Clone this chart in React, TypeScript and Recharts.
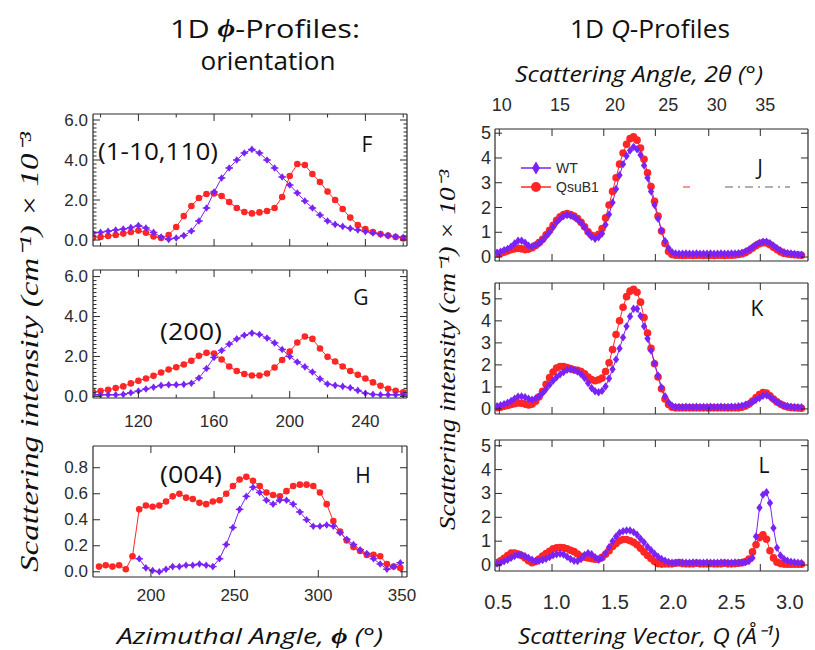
import React from 'react';
import { LineChart, Line, XAxis, YAxis } from 'recharts';

const RED = '#ff2626';
const PURPLE = '#7b22f4';
const INK = '#2b2b2b';
const SANS = "'Liberation Sans', Arial, sans-serif";
const TITLE = "'Open Sans', sans-serif";
const SERIF = "'Liberation Serif', 'Times New Roman', serif";

// ---- 1D phi profiles, panels F and G (azimuthal angle, deg) ----
const phiFG = [96, 100, 104, 108, 112, 116, 120, 124, 128, 132, 136, 140, 144, 148, 152, 156, 160, 164, 168, 172, 176, 180, 184, 188, 192, 196, 200, 204, 208, 212, 216, 220, 224, 228, 232, 236, 240, 244, 248, 252, 256, 260];
const fWT = [0.35, 0.38, 0.44, 0.5, 0.55, 0.62, 0.72, 0.6, 0.38, 0.15, 0.03, 0.1, 0.22, 0.45, 0.95, 1.6, 2.4, 3.1, 3.6, 4.0, 4.35, 4.53, 4.35, 4.0, 3.6, 3.15, 2.75, 2.35, 1.95, 1.6, 1.25, 0.95, 0.78, 0.68, 0.58, 0.5, 0.42, 0.35, 0.28, 0.22, 0.17, 0.13];
const fQsuB1 = [0.13, 0.15, 0.2, 0.25, 0.32, 0.4, 0.47, 0.36, 0.18, 0.1, 0.25, 0.65, 1.2, 1.7, 2.1, 2.3, 2.33, 2.2, 1.9, 1.6, 1.4, 1.33, 1.38, 1.45, 1.6, 2.15, 3.2, 3.8, 3.75, 3.3, 2.9, 2.42, 2.0, 1.55, 1.12, 0.75, 0.55, 0.4, 0.3, 0.22, 0.15, 0.08];
const gWT = [0.08, 0.08, 0.08, 0.08, 0.1, 0.18, 0.27, 0.37, 0.46, 0.55, 0.58, 0.58, 0.6, 0.66, 0.92, 1.4, 1.95, 2.3, 2.62, 2.88, 3.06, 3.17, 3.1, 2.92, 2.68, 2.35, 2.0, 1.72, 1.48, 1.22, 0.88, 0.62, 0.55, 0.5, 0.43, 0.3, 0.16, 0.1, 0.08, 0.08, 0.08, 0.08];
const gQsuB1 = [0.22, 0.27, 0.33, 0.42, 0.5, 0.65, 0.78, 0.9, 1.03, 1.2, 1.35, 1.46, 1.6, 1.78, 2.03, 2.18, 2.15, 1.85, 1.5, 1.27, 1.12, 1.05, 1.05, 1.15, 1.45, 1.82, 2.25, 2.7, 3.0, 2.88, 2.4, 1.98, 1.75, 1.5, 1.27, 1.08, 0.9, 0.7, 0.53, 0.38, 0.28, 0.2];

// ---- panel H, (004) ----
const phiH = [169, 173, 177, 181, 185, 189, 193, 197, 201, 205, 209, 213, 217, 221, 225, 229, 233, 237, 241, 245, 249, 253, 257, 261, 265, 269, 273, 277, 281, 285, 289, 293, 297, 301, 305, 309, 313, 317, 321, 325, 329, 333, 337, 341, 345, 349];
const hWT = [null, null, null, null, null, null, 0.1, 0.03, 0.01, 0.0, 0.02, 0.04, 0.04, 0.05, 0.05, 0.06, 0.05, 0.04, 0.1, 0.21, 0.34, 0.48, 0.58, 0.65, 0.61, 0.55, 0.52, 0.55, 0.55, 0.52, 0.46, 0.4, 0.35, 0.35, 0.36, 0.35, 0.3, 0.25, 0.21, 0.17, 0.14, 0.1, 0.06, 0.02, 0.04, 0.07];
const hQsuB1 = [0.04, 0.05, 0.04, 0.05, 0.02, 0.12, 0.48, 0.51, 0.5, 0.51, 0.54, 0.58, 0.6, 0.57, 0.56, 0.53, 0.52, 0.54, 0.55, 0.6, 0.66, 0.71, 0.73, 0.7, 0.66, 0.61, 0.59, 0.58, 0.62, 0.66, 0.67, 0.67, 0.66, 0.61, 0.52, 0.39, 0.31, 0.24, 0.19, 0.16, 0.13, 0.13, 0.12, 0.06, 0.04, 0.03];

// ---- 1D Q profiles, panels J, K, L ----
const qGrid = [
  0.49, 0.52, 0.55, 0.58, 0.61, 0.64, 0.67, 0.7, 0.73, 0.76,
  0.79, 0.82, 0.85, 0.88, 0.91, 0.94, 0.97, 1.0, 1.03, 1.06,
  1.09, 1.12, 1.15, 1.18, 1.21, 1.24, 1.27, 1.3, 1.33, 1.36,
  1.39, 1.42, 1.45, 1.48, 1.51, 1.54, 1.57, 1.6, 1.63, 1.66,
  1.69, 1.72, 1.75, 1.78, 1.81, 1.84, 1.87, 1.9, 1.93, 1.96,
  1.99, 2.02, 2.05, 2.08, 2.11, 2.14, 2.17, 2.2, 2.23, 2.26,
  2.29, 2.32, 2.35, 2.38, 2.41, 2.44, 2.47, 2.5, 2.53, 2.56,
  2.59, 2.62, 2.65, 2.68, 2.71, 2.74, 2.77, 2.8, 2.83, 2.86,
  2.89, 2.92, 2.95, 2.98, 3.01, 3.04, 3.07, 3.1,
];
const jWT = [
  0.18, 0.22, 0.28, 0.33, 0.42, 0.55, 0.66, 0.66, 0.58, 0.46,
  0.43, 0.48, 0.55, 0.68, 0.84, 1.0, 1.2, 1.4, 1.55, 1.66,
  1.7, 1.68, 1.62, 1.52, 1.38, 1.2, 0.98, 0.82, 0.74, 0.8,
  0.95, 1.3, 1.72, 2.2, 2.75, 3.3, 3.75, 4.08, 4.3, 4.45,
  4.35, 4.12, 3.7, 3.2, 2.65, 2.1, 1.55, 1.07, 0.65, 0.36,
  0.2, 0.14, 0.13, 0.13, 0.14, 0.13, 0.13, 0.14, 0.13, 0.13,
  0.13, 0.14, 0.13, 0.13, 0.14, 0.13, 0.13, 0.14, 0.14, 0.15,
  0.18, 0.23, 0.3, 0.4, 0.5, 0.57, 0.62, 0.62, 0.56, 0.46,
  0.36, 0.27, 0.2, 0.16, 0.14, 0.12, 0.1, 0.09,
];
const jQsuB1 = [
  0.12, 0.15, 0.2, 0.25, 0.3, 0.33, 0.35, 0.33, 0.3, 0.32,
  0.38, 0.47, 0.58, 0.72, 0.9, 1.08, 1.28, 1.48, 1.62, 1.72,
  1.76, 1.72, 1.65, 1.55, 1.4, 1.22, 1.02, 0.88, 0.84, 0.92,
  1.15, 1.58, 2.1, 2.65, 3.2, 3.75, 4.2, 4.55, 4.78, 4.85,
  4.72, 4.4, 3.95, 3.4, 2.85, 2.25, 1.65, 1.05, 0.55, 0.22,
  0.1, 0.07, 0.07, 0.06, 0.07, 0.07, 0.06, 0.07, 0.07, 0.06,
  0.07, 0.07, 0.06, 0.07, 0.07, 0.06, 0.07, 0.07, 0.08, 0.1,
  0.13, 0.18, 0.26, 0.36, 0.46, 0.54, 0.58, 0.57, 0.5, 0.4,
  0.3, 0.21, 0.15, 0.12, 0.1, 0.09, 0.08, 0.07,
];
const kWT = [
  0.12, 0.17, 0.22, 0.28, 0.36, 0.47, 0.56, 0.57, 0.53, 0.46,
  0.42, 0.48, 0.57, 0.72, 0.9, 1.1, 1.28, 1.44, 1.57, 1.68,
  1.78, 1.8, 1.77, 1.7, 1.57, 1.4, 1.18, 0.95, 0.8, 0.76,
  0.82, 1.02, 1.38, 1.8, 2.25, 2.75, 3.25, 3.75, 4.2, 4.55,
  4.55, 4.22, 3.75, 3.2, 2.65, 2.08, 1.52, 0.98, 0.58, 0.3,
  0.15, 0.09, 0.09, 0.09, 0.1, 0.09, 0.09, 0.1, 0.09, 0.09,
  0.09, 0.1, 0.09, 0.09, 0.1, 0.09, 0.09, 0.1, 0.1, 0.12,
  0.15, 0.19, 0.24, 0.32, 0.42, 0.5, 0.6, 0.62, 0.55, 0.43,
  0.32, 0.22, 0.16, 0.12, 0.1, 0.09, 0.08, 0.08,
];
const kQsuB1 = [
  0.06, 0.08, 0.12, 0.16, 0.2, 0.24, 0.27, 0.26, 0.22, 0.18,
  0.22, 0.35, 0.55, 0.8, 1.12, 1.42, 1.68, 1.86, 1.92, 1.93,
  1.88, 1.83, 1.78, 1.75, 1.7, 1.6, 1.45, 1.33, 1.28, 1.32,
  1.4, 1.7, 2.1, 2.7, 3.38, 4.0, 4.62, 5.1, 5.35, 5.43,
  5.3, 4.85, 4.15, 3.45, 2.75, 2.05, 1.45, 0.92, 0.45, 0.2,
  0.08, 0.05, 0.05, 0.05, 0.05, 0.05, 0.05, 0.05, 0.05, 0.05,
  0.05, 0.05, 0.05, 0.05, 0.05, 0.05, 0.05, 0.05, 0.05, 0.05,
  0.08, 0.13, 0.22, 0.36, 0.52, 0.65, 0.74, 0.72, 0.6, 0.45,
  0.32, 0.22, 0.14, 0.09, 0.06, 0.05, 0.04, 0.03,
];
const lWT = [
  0.06, 0.1, 0.16, 0.22, 0.3, 0.38, 0.43, 0.42, 0.37, 0.3,
  0.22, 0.17, 0.18, 0.21, 0.26, 0.33, 0.41, 0.45, 0.47, 0.44,
  0.35, 0.25, 0.18, 0.17, 0.25, 0.42, 0.5, 0.45, 0.33, 0.22,
  0.3, 0.5, 0.75, 1.0, 1.2, 1.35, 1.42, 1.45, 1.45, 1.38,
  1.27, 1.1, 0.95, 0.77, 0.62, 0.47, 0.35, 0.25, 0.18, 0.13,
  0.1, 0.1, 0.1, 0.11, 0.1, 0.1, 0.11, 0.1, 0.1, 0.1,
  0.11, 0.1, 0.1, 0.1, 0.11, 0.1, 0.1, 0.1, 0.11, 0.1,
  0.1, 0.12, 0.17, 0.3, 1.2, 2.4, 2.95, 3.05, 2.6, 1.55,
  0.72, 0.4, 0.25, 0.18, 0.14, 0.12, 0.1, 0.09,
];
const lQsuB1 = [
  0.1, 0.18, 0.28, 0.4, 0.5, 0.5, 0.46, 0.4, 0.3, 0.18,
  0.1, 0.15, 0.25, 0.38, 0.48, 0.58, 0.68, 0.72, 0.73, 0.72,
  0.68, 0.62, 0.56, 0.46, 0.37, 0.33, 0.3, 0.27, 0.24, 0.25,
  0.32, 0.45, 0.6, 0.78, 0.9, 1.02, 1.07, 1.07, 1.02, 0.95,
  0.85, 0.7, 0.55, 0.4, 0.27, 0.15, 0.06, 0.04, 0.05, 0.05,
  0.05, 0.08, 0.1, 0.06, 0.05, 0.05, 0.05, 0.08, 0.05, 0.05,
  0.05, 0.06, 0.05, 0.05, 0.05, 0.08, 0.05, 0.05, 0.06, 0.08,
  0.1, 0.15, 0.25, 0.55, 0.85, 1.15, 1.27, 1.08, 0.6, 0.3,
  0.12, 0.06, 0.04, 0.03, 0.03, 0.03, 0.03, 0.03,
];

// ---- tick values and labels ----
const phiFGTicks = [100, 120, 140, 160, 180, 200, 220, 240, 260];
const phiFGMajor = [120, 160, 200, 240];
const phiFGLabels = ['120', '160', '200', '240'];
const intFGTicks = [0, 0.2, 0.4, 0.6, 0.8, 1, 1.2, 1.4, 1.6, 1.8, 2, 2.2, 2.4, 2.6, 2.8, 3, 3.2, 3.4, 3.6, 3.8, 4, 4.2, 4.4, 4.6, 4.8, 5, 5.2, 5.4, 5.6, 5.8, 6];
const intFGMajor = [0, 2, 4, 6];
const intFGLabels = ['0.0', '2.0', '4.0', '6.0'];
const phiHTicks = [200, 250, 300, 350];
const phiHLabels = ['200', '250', '300', '350'];
const intHTicks = [0, 0.2, 0.4, 0.6, 0.8];
const intHLabels = ['0.0', '0.2', '0.4', '0.6', '0.8'];
const qFrameTicks = [0.509, 0.961, 1.405, 1.847, 2.305, 2.747];
const qLabelAt = [0.5, 1.0, 1.5, 2.0, 2.5, 3.0];
const qLabels = ['0.5', '1.0', '1.5', '2.0', '2.5', '3.0'];
const twoThetaAt = [0.529, 1.029, 1.501, 1.958, 2.373, 2.789];
const twoThetaLabels = ['10', '15', '20', '25', '30', '35'];
const intQTicks = [0, 1, 2, 3, 4, 5];
const intQLabels = ['0', '1', '2', '3', '4', '5'];

type Spec = { marks: number[]; majors: number[]; labels: [number, string][]; size?: number; gap?: number };

const near = (a: number, b: number) => Math.abs(a - b) < 1e-6;
const pairs = (vals: number[], texts: string[]): [number, string][] => vals.map((v, i) => [v, texts[i]]);
const tickValues = (s: Spec) =>
  Array.from(new Set([...s.marks, ...s.labels.map((l) => l[0])])).sort((a, b) => a - b);

function makeTick(side: 'top' | 'bottom' | 'left' | 'right', spec: Spec) {
  return (props: any) => {
    const { x, y, payload, index } = props;
    const v = payload.value;
    const len = spec.majors.some((m) => near(m, v)) ? 7 : 3.5;
    const mark = spec.marks.some((m) => near(m, v));
    const lab = spec.labels.find((l) => near(l[0], v));
    const gap = spec.gap ?? 6;
    const tp = { fill: INK, fontSize: spec.size ?? 17, fontFamily: SANS, dominantBaseline: 'central' as const };
    let line = null;
    let text = null;
    if (side === 'bottom') {
      if (mark) line = <line x1={x} x2={x} y1={y} y2={y - len} stroke={INK} />;
      if (lab) text = <text x={x} y={y + gap} textAnchor="middle" {...tp}>{lab[1]}</text>;
    } else if (side === 'top') {
      if (mark) line = <line x1={x} x2={x} y1={y} y2={y + len} stroke={INK} />;
      if (lab) text = <text x={x} y={y - gap} textAnchor="middle" {...tp}>{lab[1]}</text>;
    } else if (side === 'left') {
      if (mark) line = <line x1={x} x2={x + len} y1={y} y2={y} stroke={INK} />;
      if (lab) text = <text x={x - gap} y={y} textAnchor="end" {...tp}>{lab[1]}</text>;
    } else {
      if (mark) line = <line x1={x} x2={x - len} y1={y} y2={y} stroke={INK} />;
    }
    return (
      <g key={`${side}-${index}`}>
        {line}
        {text}
      </g>
    );
  };
}

const ok = (p: any) => Number.isFinite(p.cx) && Number.isFinite(p.cy) && p.value != null;

const circleDot = (r: number) => (p: any) =>
  ok(p) ? <circle key={`c${p.index}`} cx={p.cx} cy={p.cy} r={r} fill={RED} /> : <g key={`c${p.index}`} />;

const diamondDot = (s: number, bar: boolean) => (p: any) => {
  if (!ok(p)) return <g key={`d${p.index}`} />;
  const { cx, cy } = p;
  return (
    <g key={`d${p.index}`}>
      <path d={`M${cx},${cy - s}L${cx + s * 0.75},${cy}L${cx},${cy + s}L${cx - s * 0.75},${cy}Z`} fill={PURPLE} />
      {bar && <line x1={cx - s} x2={cx + s} y1={cy} y2={cy} stroke={PURPLE} strokeWidth={1.4} />}
    </g>
  );
};

type Box = { x: number; y: number; w: number; h: number };
type Series = { key: string; color: string; dot: any };

const PL = 60;
const PR = 20;
const PT = 40;
const PB = 50;

function Panel(props: {
  box: Box;
  rows: any[];
  xKey: string;
  xDomain: [number, number];
  yDomain: [number, number];
  bottom: Spec;
  top: Spec;
  left: Spec;
  right: Spec;
  series: Series[];
}) {
  const { box, rows, xKey, xDomain, yDomain, bottom, top, left, right, series } = props;
  const axisLine = { stroke: INK, strokeWidth: 1.2 };
  return (
    <div style={{ position: 'absolute', left: box.x - PL, top: box.y - PT }}>
      <LineChart width={box.w + PL + PR} height={box.h + PT + PB} data={rows} margin={{ top: 0, right: 0, bottom: 0, left: 0 }}>
        <XAxis xAxisId="b" orientation="bottom" dataKey={xKey} type="number" domain={xDomain} allowDataOverflow
          ticks={tickValues(bottom)} interval={0} tickSize={0} tickMargin={0} tickLine={false}
          tick={makeTick('bottom', bottom)} height={PB} axisLine={axisLine} />
        <XAxis xAxisId="t" orientation="top" dataKey={xKey} type="number" domain={xDomain} allowDataOverflow
          ticks={tickValues(top)} interval={0} tickSize={0} tickMargin={0} tickLine={false}
          tick={makeTick('top', top)} height={PT} axisLine={axisLine} />
        <YAxis yAxisId="l" orientation="left" type="number" domain={yDomain} allowDataOverflow
          ticks={tickValues(left)} interval={0} tickSize={0} tickMargin={0} tickLine={false}
          tick={makeTick('left', left)} width={PL} axisLine={axisLine} />
        <YAxis yAxisId="r" orientation="right" type="number" domain={yDomain} allowDataOverflow
          ticks={tickValues(right)} interval={0} tickSize={0} tickMargin={0} tickLine={false}
          tick={makeTick('right', right)} width={PR} axisLine={axisLine} />
        {series.map((s) => (
          <Line key={s.key} xAxisId="b" yAxisId="l" dataKey={s.key} stroke={s.color} strokeWidth={1}
            dot={s.dot} activeDot={false} isAnimationActive={false} connectNulls={false} type="linear" />
        ))}
      </LineChart>
    </div>
  );
}

const fgRows = phiFG.map((phi, i) => ({ phi, fW: fWT[i], fQ: fQsuB1[i], gW: gWT[i], gQ: gQsuB1[i] }));
const hRows = phiH.map((phi, i) => ({ phi, hW: hWT[i], hQ: hQsuB1[i] }));
const qRows = qGrid.map((q, i) => ({
  q, jW: jWT[i], jQ: jQsuB1[i], kW: kWT[i], kQ: kQsuB1[i], lW: lWT[i], lQ: lQsuB1[i],
}));

const phiFrame: Spec = { marks: phiFGTicks, majors: phiFGMajor, labels: [] };
const phiGBottom: Spec = { marks: phiFGTicks, majors: phiFGMajor, labels: pairs(phiFGMajor, phiFGLabels), size: 17, gap: 23 };
const intFGLeft: Spec = { marks: intFGTicks, majors: intFGMajor, labels: pairs(intFGMajor, intFGLabels), size: 17, gap: 5 };
const intFGRight: Spec = { marks: intFGTicks, majors: intFGMajor, labels: [] };
const phiHBottom: Spec = { marks: phiHTicks, majors: phiHTicks, labels: pairs(phiHTicks, phiHLabels), size: 17, gap: 18 };
const phiHTop: Spec = { marks: phiHTicks, majors: phiHTicks, labels: [] };
const intHLeft: Spec = { marks: intHTicks, majors: intHTicks, labels: pairs(intHTicks, intHLabels), size: 17, gap: 5 };
const intHRight: Spec = { marks: intHTicks, majors: intHTicks, labels: [] };
const qFrame: Spec = { marks: qFrameTicks, majors: qFrameTicks, labels: [] };
const qJTop: Spec = { marks: qFrameTicks, majors: qFrameTicks, labels: pairs(twoThetaAt, twoThetaLabels), size: 18, gap: 24 };
const qLBottom: Spec = { marks: qFrameTicks, majors: qFrameTicks, labels: pairs(qLabelAt, qLabels), size: 20, gap: 31 };
const intQLeft: Spec = { marks: intQTicks, majors: intQTicks, labels: pairs(intQTicks, intQLabels), size: 18, gap: 4 };
const intQRight: Spec = { marks: intQTicks, majors: intQTicks, labels: [] };

const phiSeries = (w: string, q: string): Series[] => [
  { key: q, color: RED, dot: circleDot(3.3) },
  { key: w, color: PURPLE, dot: diamondDot(3.8, true) },
];
const qSeries = (w: string, q: string): Series[] => [
  { key: q, color: RED, dot: circleDot(3.8) },
  { key: w, color: PURPLE, dot: diamondDot(4.2, false) },
];

const QDOM: [number, number] = [0.472, 3.156];

export default function App() {
  const letter = { fontFamily: TITLE, fontSize: 21, fill: '#111', textAnchor: 'middle' as const, dominantBaseline: 'central' as const };
  const plane = { fontFamily: TITLE, fontSize: 24, fill: '#111', textAnchor: 'middle' as const, dominantBaseline: 'central' as const };
  return (
    <div style={{ position: 'absolute', left: 0, top: 0, width: 815, height: 650, background: '#fff', overflow: 'hidden' }}>
      <Panel box={{ x: 93, y: 114, w: 314, h: 132 }} rows={fgRows} xKey="phi" xDomain={[96, 262]} yDomain={[-0.3, 6.3]}
        bottom={phiFrame} top={phiFrame} left={intFGLeft} right={intFGRight} series={phiSeries('fW', 'fQ')} />
      <Panel box={{ x: 93, y: 270, w: 314, h: 128 }} rows={fgRows} xKey="phi" xDomain={[96, 262]} yDomain={[-0.08, 6.33]}
        bottom={phiGBottom} top={phiFrame} left={intFGLeft} right={intFGRight} series={phiSeries('gW', 'gQ')} />
      <Panel box={{ x: 93, y: 446, w: 314, h: 131 }} rows={hRows} xKey="phi" xDomain={[165.4, 353]} yDomain={[-0.04, 0.967]}
        bottom={phiHBottom} top={phiHTop} left={intHLeft} right={intHRight} series={phiSeries('hW', 'hQ')} />
      <Panel box={{ x: 495, y: 129, w: 313, h: 132 }} rows={qRows} xKey="q" xDomain={QDOM} yDomain={[-0.16, 5.17]}
        bottom={qFrame} top={qJTop} left={intQLeft} right={intQRight} series={qSeries('jW', 'jQ')} />
      <Panel box={{ x: 495, y: 283, w: 313, h: 131 }} rows={qRows} xKey="q" xDomain={QDOM} yDomain={[-0.23, 5.72]}
        bottom={qFrame} top={qFrame} left={intQLeft} right={intQRight} series={qSeries('kW', 'kQ')} />
      <Panel box={{ x: 495, y: 440, w: 313, h: 131 }} rows={qRows} xKey="q" xDomain={QDOM} yDomain={[-0.25, 5.24]}
        bottom={qLBottom} top={qFrame} left={intQLeft} right={intQRight} series={qSeries('lW', 'lQ')} />

      <svg width={815} height={650} style={{ position: 'absolute', left: 0, top: 0, pointerEvents: 'none' }}>
        {/* headings */}
        <text x={265} y={28} {...plane} fontSize={25} textLength={190} lengthAdjust="spacingAndGlyphs">
          1D <tspan fontFamily={SERIF} fontStyle="italic" fontWeight="bold">ϕ</tspan>-Profiles:
        </text>
        <text x={268} y={60} {...plane} fontSize={25} textLength={135} lengthAdjust="spacingAndGlyphs">orientation</text>
        <text x={650} y={28} {...plane} fontSize={25} textLength={160} lengthAdjust="spacingAndGlyphs">
          1D <tspan fontStyle="italic">Q</tspan>-Profiles
        </text>
        <text x={639} y={73} {...plane} fontSize={22} fontStyle="italic" textLength={248} lengthAdjust="spacingAndGlyphs">
          Scattering Angle, 2θ (°)
        </text>
        <text x={250} y={635} {...plane} fontSize={22} fontStyle="italic" textLength={266} lengthAdjust="spacingAndGlyphs">
          Azimuthal Angle, <tspan fontFamily={SERIF} fontWeight="bold">ϕ</tspan> (°)
        </text>
        <text x={649} y={635} {...plane} fontSize={22} fontStyle="italic" textLength={262} lengthAdjust="spacingAndGlyphs">
          Scattering Vector, Q (Å⁻¹)
        </text>
        <text x={29} y={352} transform="rotate(-90 29 352)" textAnchor="middle" dominantBaseline="central"
          fontFamily={SERIF} fontStyle="italic" fontSize={26} fill="#111" textLength={440} lengthAdjust="spacingAndGlyphs">
          Scattering intensity (cm⁻¹) × 10⁻³
        </text>
        <text x={447} y={350} transform="rotate(-90 447 350)" textAnchor="middle" dominantBaseline="central"
          fontFamily={SERIF} fontStyle="italic" fontSize={23} fill="#111" textLength={360} lengthAdjust="spacingAndGlyphs">
          Scattering intensity (cm⁻¹) × 10⁻³
        </text>

        {/* panel letters and reflections */}
        <text x={367} y={144} {...letter}>F</text>
        <text x={361} y={297} {...letter}>G</text>
        <text x={363} y={475} {...letter}>H</text>
        <text x={760} y={167} {...letter}>J</text>
        <text x={757} y={308} {...letter}>K</text>
        <text x={764} y={465} {...letter}>L</text>
        <text x={158} y={150} {...plane} textLength={120} lengthAdjust="spacingAndGlyphs">(1-10,110)</text>
        <text x={191} y={330} {...plane} textLength={62} lengthAdjust="spacingAndGlyphs">(200)</text>
        <text x={191} y={473} {...plane} textLength={62} lengthAdjust="spacingAndGlyphs">(004)</text>

        {/* legend in J */}
        <line x1={521} x2={551} y1={168} y2={168} stroke={PURPLE} strokeWidth={1.5} />
        <path d="M536,161.5L540,168L536,174.5L532,168Z" fill={PURPLE} />
        <text x={556} y={168} dominantBaseline="central" fontFamily={SANS} fontSize={14} fill={INK}>WT</text>
        <line x1={521} x2={551} y1={187} y2={187} stroke={RED} strokeWidth={1.5} />
        <circle cx={536} cy={187} r={5} fill={RED} />
        <text x={556} y={187} dominantBaseline="central" fontFamily={SANS} fontSize={14} fill={INK}>QsuB1</text>
        <line x1={683} x2={690} y1={187} y2={187} stroke={RED} strokeWidth={1} />
        <line x1={725} x2={790} y1={187} y2={187} stroke="#556070" strokeWidth={1} strokeDasharray="8 5 2 5" />
      </svg>
    </div>
  );
}
